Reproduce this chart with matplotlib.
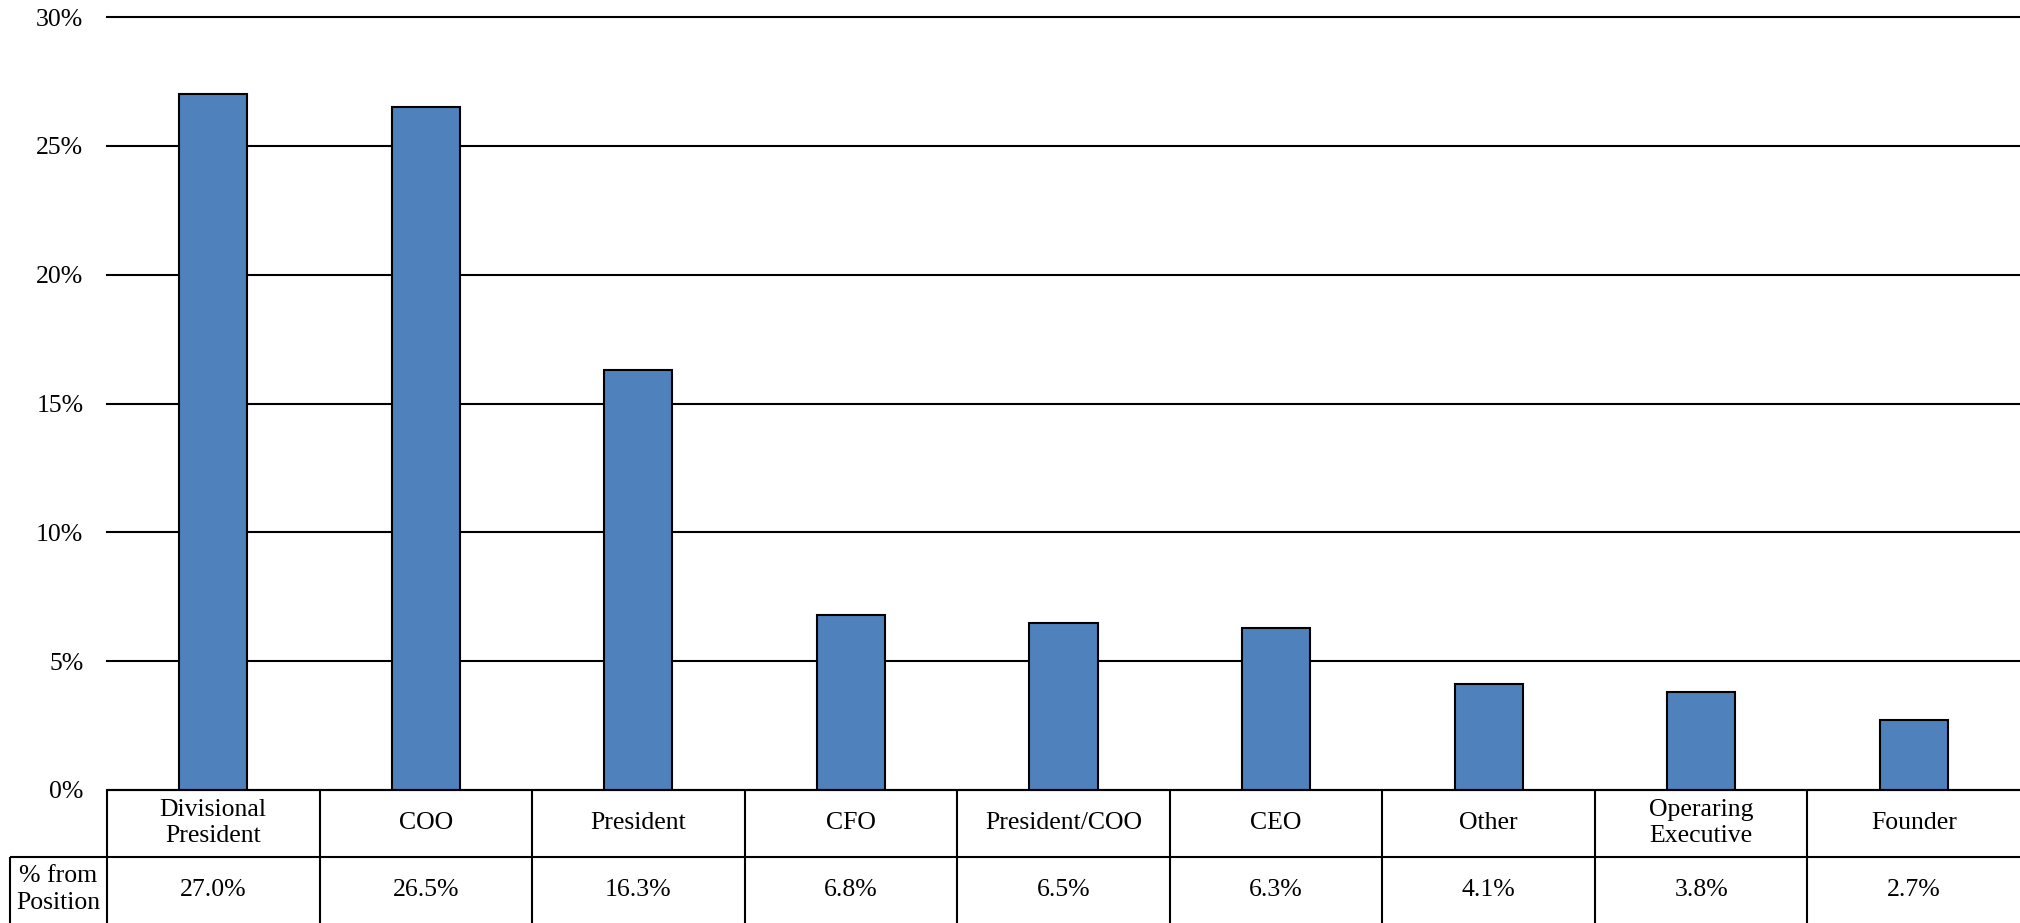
import matplotlib
matplotlib.use("Agg")
import matplotlib.pyplot as plt
from matplotlib.ticker import PercentFormatter

plt.rcParams['font.family'] = ['Liberation Serif', 'DejaVu Serif']

categories = ["Divisional\nPresident", "COO", "President", "CFO", "President/COO",
              "CEO", "Other", "Operaring\nExecutive", "Founder"]
shares = [27.0, 26.5, 16.3, 6.8, 6.5, 6.3, 4.1, 3.8, 2.7]
value_labels = ["27.0%", "26.5%", "16.3%", "6.8%", "6.5%", "6.3%", "4.1%", "3.8%", "2.7%"]
row_label = "% from\nPosition"
y_ticks = [0, 5, 10, 15, 20, 25, 30]

W, H = 2020, 923
fig = plt.figure(figsize=(W / 100, H / 100), dpi=100)

left = 107 / W
chart_bottom = (H - 790) / H
chart_top = (H - 17) / H
ax = fig.add_axes([left, chart_bottom, 1 - left, chart_top - chart_bottom])

FS = 18.5
LW = 1.5
bar_color = "#4f81bd"

n = len(categories)
xs = list(range(n))
ax.bar(xs, shares, width=0.32, color=bar_color, edgecolor="black", linewidth=LW, zorder=3)

ax.set_xlim(-0.5, n - 0.5)
ax.set_ylim(0, 30)
ax.set_yticks(y_ticks)
ax.yaxis.set_major_formatter(PercentFormatter(decimals=0))
ax.tick_params(axis="y", length=0, pad=17, labelsize=FS)
ax.tick_params(axis="x", length=0, labelbottom=False)
for s in ax.spines.values():
    s.set_visible(False)
ax.grid(axis="y", color="black", linewidth=LW, zorder=1)
ax.set_axisbelow(True)
for gl in ax.get_ygridlines():
    gl.set_clip_on(False)

# Data table beneath the bars
tax = fig.add_axes([left, 0, 1 - left, chart_bottom])
tax.set_xlim(-0.5, n - 0.5)
tax.set_ylim(0, 2)
tax.axis("off")

label_left = -0.5 - (107 - 10) / ((W - 107) / n)
line_kw = dict(color="black", linewidth=LW, clip_on=False, solid_capstyle="butt")
tax.plot([-0.5, n - 0.5], [2, 2], **line_kw)
tax.plot([label_left, n - 0.5], [1, 1], **line_kw)
for i in range(n):
    tax.plot([i - 0.5, i - 0.5], [0, 2], **line_kw)
tax.plot([label_left, label_left], [0, 1], **line_kw)

for i, (cat, val) in enumerate(zip(categories, value_labels)):
    tax.text(i, 1.5, cat, ha="center", va="center", fontsize=FS, linespacing=1.25)
    tax.text(i, 0.5, val, ha="center", va="center", fontsize=FS)
tax.text((label_left - 0.5) / 2, 0.5, row_label, ha="center", va="center",
         fontsize=FS, linespacing=1.3, clip_on=False)

fig.savefig("out.png", dpi=100, facecolor="white")
